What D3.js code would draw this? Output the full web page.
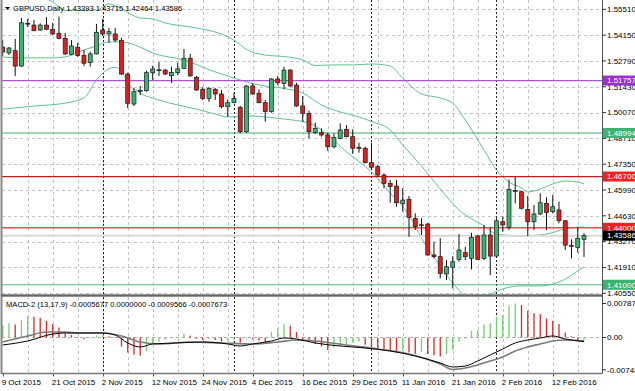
<!DOCTYPE html>
<html><head><meta charset="utf-8">
<script src="https://cdn.jsdelivr.net/npm/d3@7"></script>
<style>body{margin:0;background:#fff}svg{display:block}text{font-family:"Liberation Sans",Arial,sans-serif}</style>
</head><body><svg id="c" width="635" height="391"></svg>
<script>
// ---------- DATA ----------
const opens =[1.5352,1.5321,1.5333,1.5252,1.5477,1.5468,1.5442,1.5468,1.5446,1.5425,1.5398,1.5314,1.5351,1.5307,1.5270,1.5316,1.5442,1.5421,1.5421,1.5386,1.5210,1.5052,1.5121,1.5122,1.5217,1.5232,1.5231,1.5201,1.5217,1.5240,1.5293,1.5191,1.5130,1.5082,1.5130,1.5105,1.5038,1.5059,1.5035,1.4906,1.5147,1.5109,1.5059,1.5012,1.5184,1.5161,1.5231,1.5152,1.5042,1.5003,1.4901,1.4901,1.4889,1.4827,1.4871,1.4919,1.4880,1.4823,1.4819,1.4743,1.4722,1.4678,1.4634,1.4620,1.4529,1.4550,1.4450,1.4416,1.4420,1.4257,1.4248,1.4157,1.4192,1.4234,1.4269,1.4239,1.4357,1.4239,1.4362,1.4251,1.4432,1.4403,1.4596,1.4590,1.4497,1.4432,1.4473,1.4529,1.4485,1.4494,1.4437,1.4307,1.4297,1.43393];
const highs =[1.5389,1.5352,1.5395,1.5505,1.5500,1.5495,1.5477,1.5510,1.5480,1.5512,1.5426,1.5389,1.5374,1.5337,1.5328,1.5474,1.5500,1.5453,1.5453,1.5400,1.5217,1.5136,1.5147,1.5228,1.5254,1.5273,1.5237,1.5249,1.5268,1.5342,1.5316,1.5200,1.5140,1.5140,1.5136,1.5126,1.5077,1.5109,1.5042,1.5152,1.5161,1.5130,1.5073,1.5188,1.5200,1.5249,1.5235,1.5164,1.5094,1.5017,1.4954,1.4924,1.4901,1.4898,1.4950,1.4941,1.4919,1.4848,1.4827,1.4848,1.4731,1.4687,1.4652,1.4652,1.4608,1.4568,1.4476,1.4450,1.4425,1.4327,1.4345,1.4230,1.4251,1.4367,1.4300,1.4374,1.4362,1.4415,1.4403,1.4450,1.4458,1.4655,1.4673,1.4595,1.4568,1.4520,1.4582,1.4561,1.4573,1.4538,1.4440,1.4339,1.4406,1.43715];
const lows  =[1.5305,1.5310,1.5200,1.5248,1.5458,1.5436,1.5438,1.5442,1.5416,1.5393,1.5310,1.5310,1.5301,1.5252,1.5249,1.5313,1.5410,1.5374,1.5380,1.5205,1.5030,1.5042,1.5100,1.5117,1.5179,1.5200,1.5205,1.5163,1.5205,1.5237,1.5196,1.5122,1.5073,1.5064,1.5073,1.5030,1.4985,1.5056,1.4898,1.4901,1.5100,1.5056,1.4959,1.5006,1.5152,1.5130,1.5143,1.5038,1.4959,1.4871,1.4894,1.4880,1.4806,1.4819,1.4866,1.4877,1.4789,1.4796,1.4740,1.4704,1.4669,1.4608,1.4532,1.4511,1.4485,1.4353,1.4388,1.4362,1.4252,1.4239,1.4134,1.4125,1.4081,1.4221,1.4230,1.4181,1.4230,1.4230,1.4151,1.4245,1.4379,1.4388,1.4529,1.4497,1.4357,1.4388,1.4467,1.4388,1.4476,1.4424,1.4283,1.4239,1.4269,1.42464];
const closes=[1.5326,1.5347,1.5252,1.5480,1.5475,1.5438,1.5468,1.5446,1.5421,1.5398,1.5316,1.5358,1.5307,1.5267,1.5316,1.5430,1.5421,1.5433,1.5389,1.5210,1.5056,1.5117,1.5123,1.5217,1.5237,1.5230,1.5210,1.5219,1.5237,1.5293,1.5200,1.5126,1.5082,1.5135,1.5105,1.5038,1.5059,1.5082,1.4906,1.5147,1.5105,1.5059,1.5012,1.5184,1.5164,1.5231,1.5147,1.5042,1.5003,1.4906,1.4924,1.4889,1.4827,1.4875,1.4915,1.4880,1.4819,1.4821,1.4743,1.4719,1.4678,1.4634,1.4617,1.4532,1.4546,1.4455,1.4406,1.4414,1.4257,1.4248,1.4160,1.4195,1.4221,1.4283,1.4248,1.4350,1.4234,1.4362,1.4251,1.4437,1.4415,1.4603,1.4594,1.4503,1.4432,1.4473,1.4532,1.4480,1.4511,1.4437,1.4309,1.4305,1.4345,1.43586];

// Bollinger bands: [bar, price]
const upperBand=[[0,1.5640],[5,1.5625],[8,1.5590],[10,1.5545],[15,1.5547],[17,1.5579],[19,1.5553],[22,1.5505],[24,1.5500],[26,1.5479],[31,1.5453],[35,1.5420],[37,1.5389],[39,1.5340],[42,1.5310],[45,1.5302],[48,1.5284],[50,1.5255],[53,1.5258],[56,1.5258],[59,1.5263],[62,1.5252],[64,1.5189],[67,1.5105],[70,1.5084],[72,1.5057],[74,1.4968],[77,1.4810],[79,1.4704],[81,1.4641],[83,1.4610],[84,1.4589],[86,1.4604],[88,1.4631],[90,1.4646],[92,1.4641],[93,1.4631]];
const middleBand=[[0,1.5300],[3,1.5295],[8,1.5295],[10,1.5300],[13,1.5337],[15,1.5358],[17,1.5379],[19,1.5379],[22,1.5352],[24,1.5321],[29,1.5284],[34,1.5221],[37,1.5189],[41,1.5152],[45,1.5134],[48,1.5110],[51,1.5047],[54,1.5010],[57,1.4984],[59,1.4960],[62,1.4915],[64,1.4836],[67,1.4725],[70,1.4605],[73,1.4494],[77,1.4410],[79,1.4367],[83,1.4357],[87,1.4367],[90,1.4394],[93,1.4404]];
const lowerBand=[[0,1.5025],[5,1.5041],[10,1.5057],[13,1.5084],[15,1.5179],[17,1.5238],[18,1.5245],[19,1.5225],[20,1.5165],[22,1.5110],[25,1.5073],[28,1.5047],[31,1.5025],[34,1.4999],[36,1.4984],[40,1.4989],[42,1.4984],[45,1.4973],[49,1.4952],[51,1.4915],[55,1.4800],[59,1.4694],[62,1.4583],[65,1.4467],[67,1.4346],[70,1.4198],[72,1.4109],[74,1.4041],[76,1.4020],[78,1.4051],[80,1.4078],[83,1.4094],[86,1.4094],[88,1.4104],[90,1.4130],[92,1.4173],[93,1.4194]];

// MACD-2 panel
const histogram=[0.0029,0.0033,0.0030,0.0040,0.0050,0.0048,0.0046,0.0038,0.0031,0.0023,0.0010,0.0006,0.0002,-0.0004,-0.0002,0.0004,0.0005,0.0003,-0.0001,-0.0021,-0.0035,-0.0040,-0.0042,-0.0031,-0.0013,-0.0010,-0.0005,-0.0002,0.0002,0.0009,0.0004,-0.0003,-0.0006,-0.0004,-0.0006,-0.0009,-0.0007,-0.0005,-0.0012,-0.0003,-0.0004,-0.0007,-0.0010,0.0013,0.0021,0.0031,0.0027,0.0013,-0.0006,-0.0010,-0.0015,-0.0021,-0.0029,-0.0024,-0.0019,-0.0015,-0.0012,-0.0010,-0.0017,-0.0021,-0.0025,-0.0029,-0.0030,-0.0033,-0.0031,-0.0035,-0.0038,-0.0033,-0.0038,-0.0041,-0.0044,-0.0038,-0.0029,-0.0010,-0.0003,0.0015,0.0017,0.0030,0.0033,0.0048,0.0052,0.0074,0.007872,0.0075,0.0062,0.0056,0.0054,0.0044,0.0039,0.0031,0.0011,0.0003,-0.0008,-0.0005677];
const macdLine=[[0,-0.00174],[4,-0.00081],[8,0.00081],[10,0.00104],[13,0.00104],[16,0.00104],[18,0.00058],[20,-0.00127],[22,-0.0022],[24,-0.0015],[28,-0.00127],[32,-0.00104],[36,-0.0015],[38,-0.00197],[40,-0.0015],[43,-0.00081],[45,-0.00012],[47,-0.00035],[50,-0.00127],[54,-0.00197],[58,-0.00243],[62,-0.00313],[66,-0.00428],[70,-0.0059],[72,-0.00683],[74,-0.0066],[76,-0.00544],[78,-0.00405],[80,-0.00266],[82,-0.00127],[84,-0.00058],[86,-0.00012],[88,0.00035],[90,-0.00035],[93,-0.0009566]];
const signalLine=[[0,-0.00104],[4,0.00035],[7,0.00127],[10,0.00127],[12,0.00104],[16,0.00104],[19,0.00035],[22,-0.00104],[25,-0.0015],[30,-0.00104],[35,-0.00127],[40,-0.0015],[44,-0.00104],[47,-0.00058],[50,-0.00081],[55,-0.00174],[60,-0.00266],[65,-0.00382],[70,-0.00613],[72,-0.00740],[74,-0.00706],[76,-0.00637],[78,-0.00544],[80,-0.00451],[82,-0.00313],[84,-0.0022],[86,-0.0015],[88,-0.00081],[90,-0.00058],[93,-0.0007673]];

const priceTicks=[1.55510,1.54150,1.52790,1.51430,1.50070,1.48710,1.47350,1.45990,1.44630,1.43270,1.41910,1.40550];
const macdTicks=[0.007872,0,-0.007480];
const macdTickLabels=["0.007872","0.00","-0.007480"];
const dateLabels=["9 Oct 2015","21 Oct 2015","2 Nov 2015","12 Nov 2015","24 Nov 2015","4 Dec 2015","16 Dec 2015","29 Dec 2015","11 Jan 2016","21 Jan 2016","2 Feb 2016","12 Feb 2016"];
const dateLabelBars=[0,8,16,24,32,40,48,56,64,72,80,88];
const periodSeparators=[16,37,59,79];
const levels=[
  {v:1.51757,line:"#a655d6",box:"#9932cc",w:1.3},
  {v:1.48994,line:"#3cb371",box:"#3cb371",w:1.2},
  {v:1.46700,line:"#c11b1b",box:"#ee2222",w:1.3},
  {v:1.44000,line:"#ec4c4c",box:"#ee2222",w:1.6},
  {v:1.41000,line:"#50bb80",box:"#3cb371",w:1.2}
];
const bid=1.43586;
const header="GBPUSD,Daily  1.43393 1.43715 1.42464 1.43586";
const macdHeader="MACD-2 (13,17,9) -0.0005677 0.0000000 -0.0009566 -0.0007673";

// ---------- LAYOUT ----------
const L=2, R=602, mainTop=0, mainBot=295, macdTop=297, macdBot=373.5;
const svg=d3.select("#c");
svg.append("rect").attr("width",635).attr("height",391).attr("fill","#fff");
const x=d3.scaleLinear().domain([0,93]).range([2.7,584]);
const y=d3.scaleLinear().domain([1.4055,1.5551]).range([293.3,9.3]);
const ym=d3.scaleLinear().domain([-0.00748,0.007872]).range([369.8,303.5]);

const defs=svg.append("defs");
defs.append("clipPath").attr("id","cm").append("rect").attr("x",L).attr("y",mainTop).attr("width",R-L).attr("height",mainBot-mainTop-0.5);
defs.append("clipPath").attr("id","cd").append("rect").attr("x",L).attr("y",macdTop).attr("width",R-L).attr("height",macdBot-macdTop);

const gm=svg.append("g").attr("clip-path","url(#cm)");
const gd=svg.append("g").attr("clip-path","url(#cd)");

// grid
const gridCol="#c4c4c4";
priceTicks.forEach(p=>{
  gm.append("line").attr("x1",L).attr("x2",R).attr("y1",Math.round(y(p))+0.5).attr("y2",Math.round(y(p))+0.5)
    .attr("stroke",gridCol).attr("stroke-dasharray","3,3");
});
d3.range(4,96,4).forEach(b=>{
  const xx=Math.round(x(b))+0.5;
  [gm,gd].forEach((g,k)=>{
    g.append("line").attr("x1",xx).attr("x2",xx).attr("y1",k?macdTop:mainTop).attr("y2",k?macdBot:mainBot)
     .attr("stroke",gridCol).attr("stroke-dasharray","3,3");
  });
});
gd.append("line").attr("x1",L).attr("x2",R).attr("y1",ym(0)).attr("y2",ym(0)).attr("stroke","#b0b0b0").attr("stroke-dasharray","3,3");
periodSeparators.forEach(b=>{
  const xx=Math.round(x(b))+0.5;
  [gm,gd].forEach((g,k)=>{
    g.append("line").attr("x1",xx).attr("x2",xx).attr("y1",k?macdTop:mainTop).attr("y2",k?macdBot:mainBot)
     .attr("stroke","#222").attr("stroke-dasharray","2,2");
  });
});

// bands
const bandLine=d3.line().x(d=>x(d[0])).y(d=>y(d[1])).curve(d3.curveMonotoneX);
[upperBand,middleBand,lowerBand].forEach(b=>{
  gm.append("path").attr("d",bandLine(b)).attr("fill","none").attr("stroke","#62c18f").attr("stroke-width",1);
});

// levels
levels.forEach(l=>{
  gm.append("line").attr("x1",L).attr("x2",R).attr("y1",y(l.v)).attr("y2",y(l.v)).attr("stroke",l.line).attr("stroke-width",l.w);
});
gm.append("line").attr("x1",L).attr("x2",R).attr("y1",y(bid)).attr("y2",y(bid)).attr("stroke","#d9d9d9").attr("stroke-width",2);

// candles
const idx=d3.range(opens.length);
gm.selectAll("line.wick").data(idx).join("line").attr("class","wick")
  .attr("x1",i=>x(i)).attr("x2",i=>x(i)).attr("y1",i=>y(highs[i])).attr("y2",i=>y(lows[i]))
  .attr("stroke","#111").attr("stroke-width",1);
gm.selectAll("rect.body").data(idx).join("rect").attr("class","body")
  .attr("x",i=>x(i)-2).attr("width",4)
  .attr("y",i=>y(Math.max(opens[i],closes[i])))
  .attr("height",i=>Math.max(0.8,Math.abs(y(opens[i])-y(closes[i]))))
  .attr("fill",i=>closes[i]>=opens[i]?"#3cb371":"#dd1f1f")
  .attr("stroke","#1a1a1a").attr("stroke-width",0.7);

// header
svg.append("path").attr("d","M5,7 L10,7 L7.5,10 Z").attr("fill","#000");
svg.append("text").attr("x",13).attr("y",11).attr("font-size","7.6px").attr("fill","#000").text(header);

// MACD histogram
gd.selectAll("line.h").data(idx).join("line").attr("class","h")
  .attr("x1",i=>x(i)).attr("x2",i=>x(i)).attr("y1",ym(0)).attr("y2",i=>ym(histogram[i]))
  .attr("stroke",i=>(i===0||histogram[i]>=histogram[i-1])?"#6fd06f":"#d42a2a").attr("stroke-width",1.3);
const ml=d3.line().x(d=>x(d[0])).y(d=>ym(d[1])).curve(d3.curveMonotoneX);
gd.append("path").attr("d",ml(signalLine)).attr("fill","none").attr("stroke","#7a7a7a").attr("stroke-width",1.6);
gd.append("path").attr("d",ml(macdLine)).attr("fill","none").attr("stroke","#000").attr("stroke-width",1);
svg.append("text").attr("x",6).attr("y",307).attr("font-size","7.6px").attr("fill","#000").text(macdHeader);

// frames
svg.append("line").attr("x1",1.5).attr("x2",1.5).attr("y1",0).attr("y2",macdBot).attr("stroke","#888").attr("stroke-width",2);
svg.append("rect").attr("x",1).attr("y",294.3).attr("width",R-1).attr("height",2.4).attr("fill","#666");
svg.append("line").attr("x1",1).attr("x2",R).attr("y1",macdBot).attr("y2",macdBot).attr("stroke","#777").attr("stroke-width",1.5);
svg.append("line").attr("x1",R+0.5).attr("x2",R+0.5).attr("y1",0).attr("y2",macdBot).attr("stroke","#555").attr("stroke-width",1);

// right axis labels
const ax=svg.append("g").attr("font-size","8px").attr("fill","#000");
priceTicks.forEach(p=>{
  ax.append("line").attr("x1",R).attr("x2",R+4).attr("y1",y(p)).attr("y2",y(p)).attr("stroke","#333");
  ax.append("text").attr("x",607).attr("y",y(p)).attr("dy","0.35em").text(p.toFixed(5));
});
macdTicks.forEach((v,k)=>{
  ax.append("line").attr("x1",R).attr("x2",R+4).attr("y1",ym(v)).attr("y2",ym(v)).attr("stroke","#333");
  ax.append("text").attr("x",607).attr("y",ym(v)).attr("dy","0.35em").text(macdTickLabels[k]);
});
const boxes=levels.map(l=>({v:l.v,c:l.box})).concat([{v:bid,c:"#000"}]);
boxes.forEach(b=>{
  ax.append("rect").attr("x",603).attr("y",y(b.v)-5).attr("width",32).attr("height",10).attr("fill",b.c);
  ax.append("text").attr("x",607).attr("y",y(b.v)).attr("dy","0.35em").attr("fill","#fff").text(b.v.toFixed(5));
});

// date labels
dateLabels.forEach((t,k)=>{
  svg.append("text").attr("x",x(dateLabelBars[k])-1).attr("y",385).attr("font-size","8px").attr("fill","#000").text(t);
  svg.append("line").attr("x1",Math.round(x(dateLabelBars[k]))+0.5).attr("x2",Math.round(x(dateLabelBars[k]))+0.5).attr("y1",macdBot).attr("y2",macdBot+3).attr("stroke","#555");
});
</script></body></html>
